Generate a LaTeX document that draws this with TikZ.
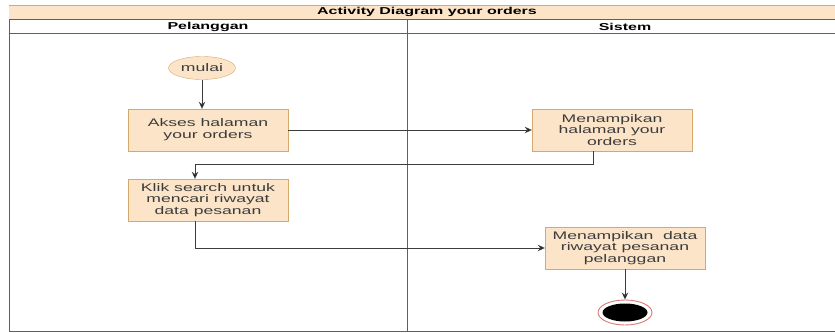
\documentclass[tikz,border=0pt]{standalone}
\usepackage{fontspec}
\setmainfont{Liberation Sans}[FakeStretch=1.6]
\usepackage{tikz}
\usetikzlibrary{shapes.geometric}
\usetikzlibrary {arrows.meta}

\definecolor{peach}{HTML}{FCE4C8}
\definecolor{peachline}{HTML}{D4AA6C}
\definecolor{ink}{HTML}{3C3C3C}
\definecolor{ringred}{HTML}{D77A78}

\begin{document}
\begin{tikzpicture}[
x=1pt, y=-1pt,
act/.style={
    rectangle,
    draw=peachline,
    fill=peach,
    minimum width=160pt,
    minimum height=42pt,
    inner sep=2pt,
    align=center,
    text=ink,
    font=\fontsize{11}{11.8}\selectfont
},
flow/.style={
    draw=ink,
    line width=0.9pt,
    -{Stealth[length=7pt,width=6.5pt,fill=black]}
},
lane/.style={
    draw=gray!75!black,
    line width=0.9pt
},
judul/.style={
    text=black,
    font=\bfseries\fontsize{10}{11}\selectfont
}
]

\useasboundingbox (0,0) rectangle (835,332);
\clip (0,0) rectangle (835,332);

% swimlanes
\fill[peach] (9,5) rectangle (850,19);
\draw[peachline, line width=1pt] (9,5) -- (850,5);
\draw[lane] (9,19) -- (850,19);
\draw[lane] (9,33) -- (850,33);
\draw[lane] (9,19) -- (9,331) -- (850,331);
\draw[lane] (407,19) -- (407,331);
\draw[lane] (843,19) -- (843,331);

\node[judul] (diagram) at (427,12) {Activity Diagram your orders};
\node[judul] (pelanggan) at (208,26.5) {Pelanggan};
\node[judul] (sistem) at (625,26.5) {Sistem};

% activities
\node[ellipse, draw=peachline, fill=peach, text=ink,
      minimum width=67pt, minimum height=23pt, inner sep=0pt,
      font=\fontsize{11}{11.8}\selectfont] (mulai) at (202,68) {mulai};
\node[act] (akses) at (208,130) {Akses halaman\\your orders};
\node[act] (tampil1) at (612,130) {Menampikan\\halaman your\\orders};
\node[act] (klik) at (208,200) {Klik search untuk\\mencari riwayat\\data pesanan};
\node[act] (tampil2) at (625,248) {Menampikan~ data\\riwayat pesanan\\pelanggan};
\node[ellipse, draw=ringred, fill=white, line width=0.9pt,
      minimum width=54pt, minimum height=25pt] (akhir) at (625,312.5) {};
\node[ellipse, fill=black, minimum width=45pt, minimum height=18pt,
      inner sep=0pt] (akhirdalam) at (akhir) {};

% flows
\draw[flow] (mulai) -- (mulai |- akses.north);
\draw[flow] (akses) -- (tampil1);
\draw[flow] ([xshift=-19pt]tampil1.south) -- ++(0,13) -| ([xshift=-13pt]klik.north);
\draw[flow] ([xshift=-13pt]klik.south) |- (tampil2);
\draw[flow] (tampil2) -- (akhir);
\end{tikzpicture}
\end{document}
